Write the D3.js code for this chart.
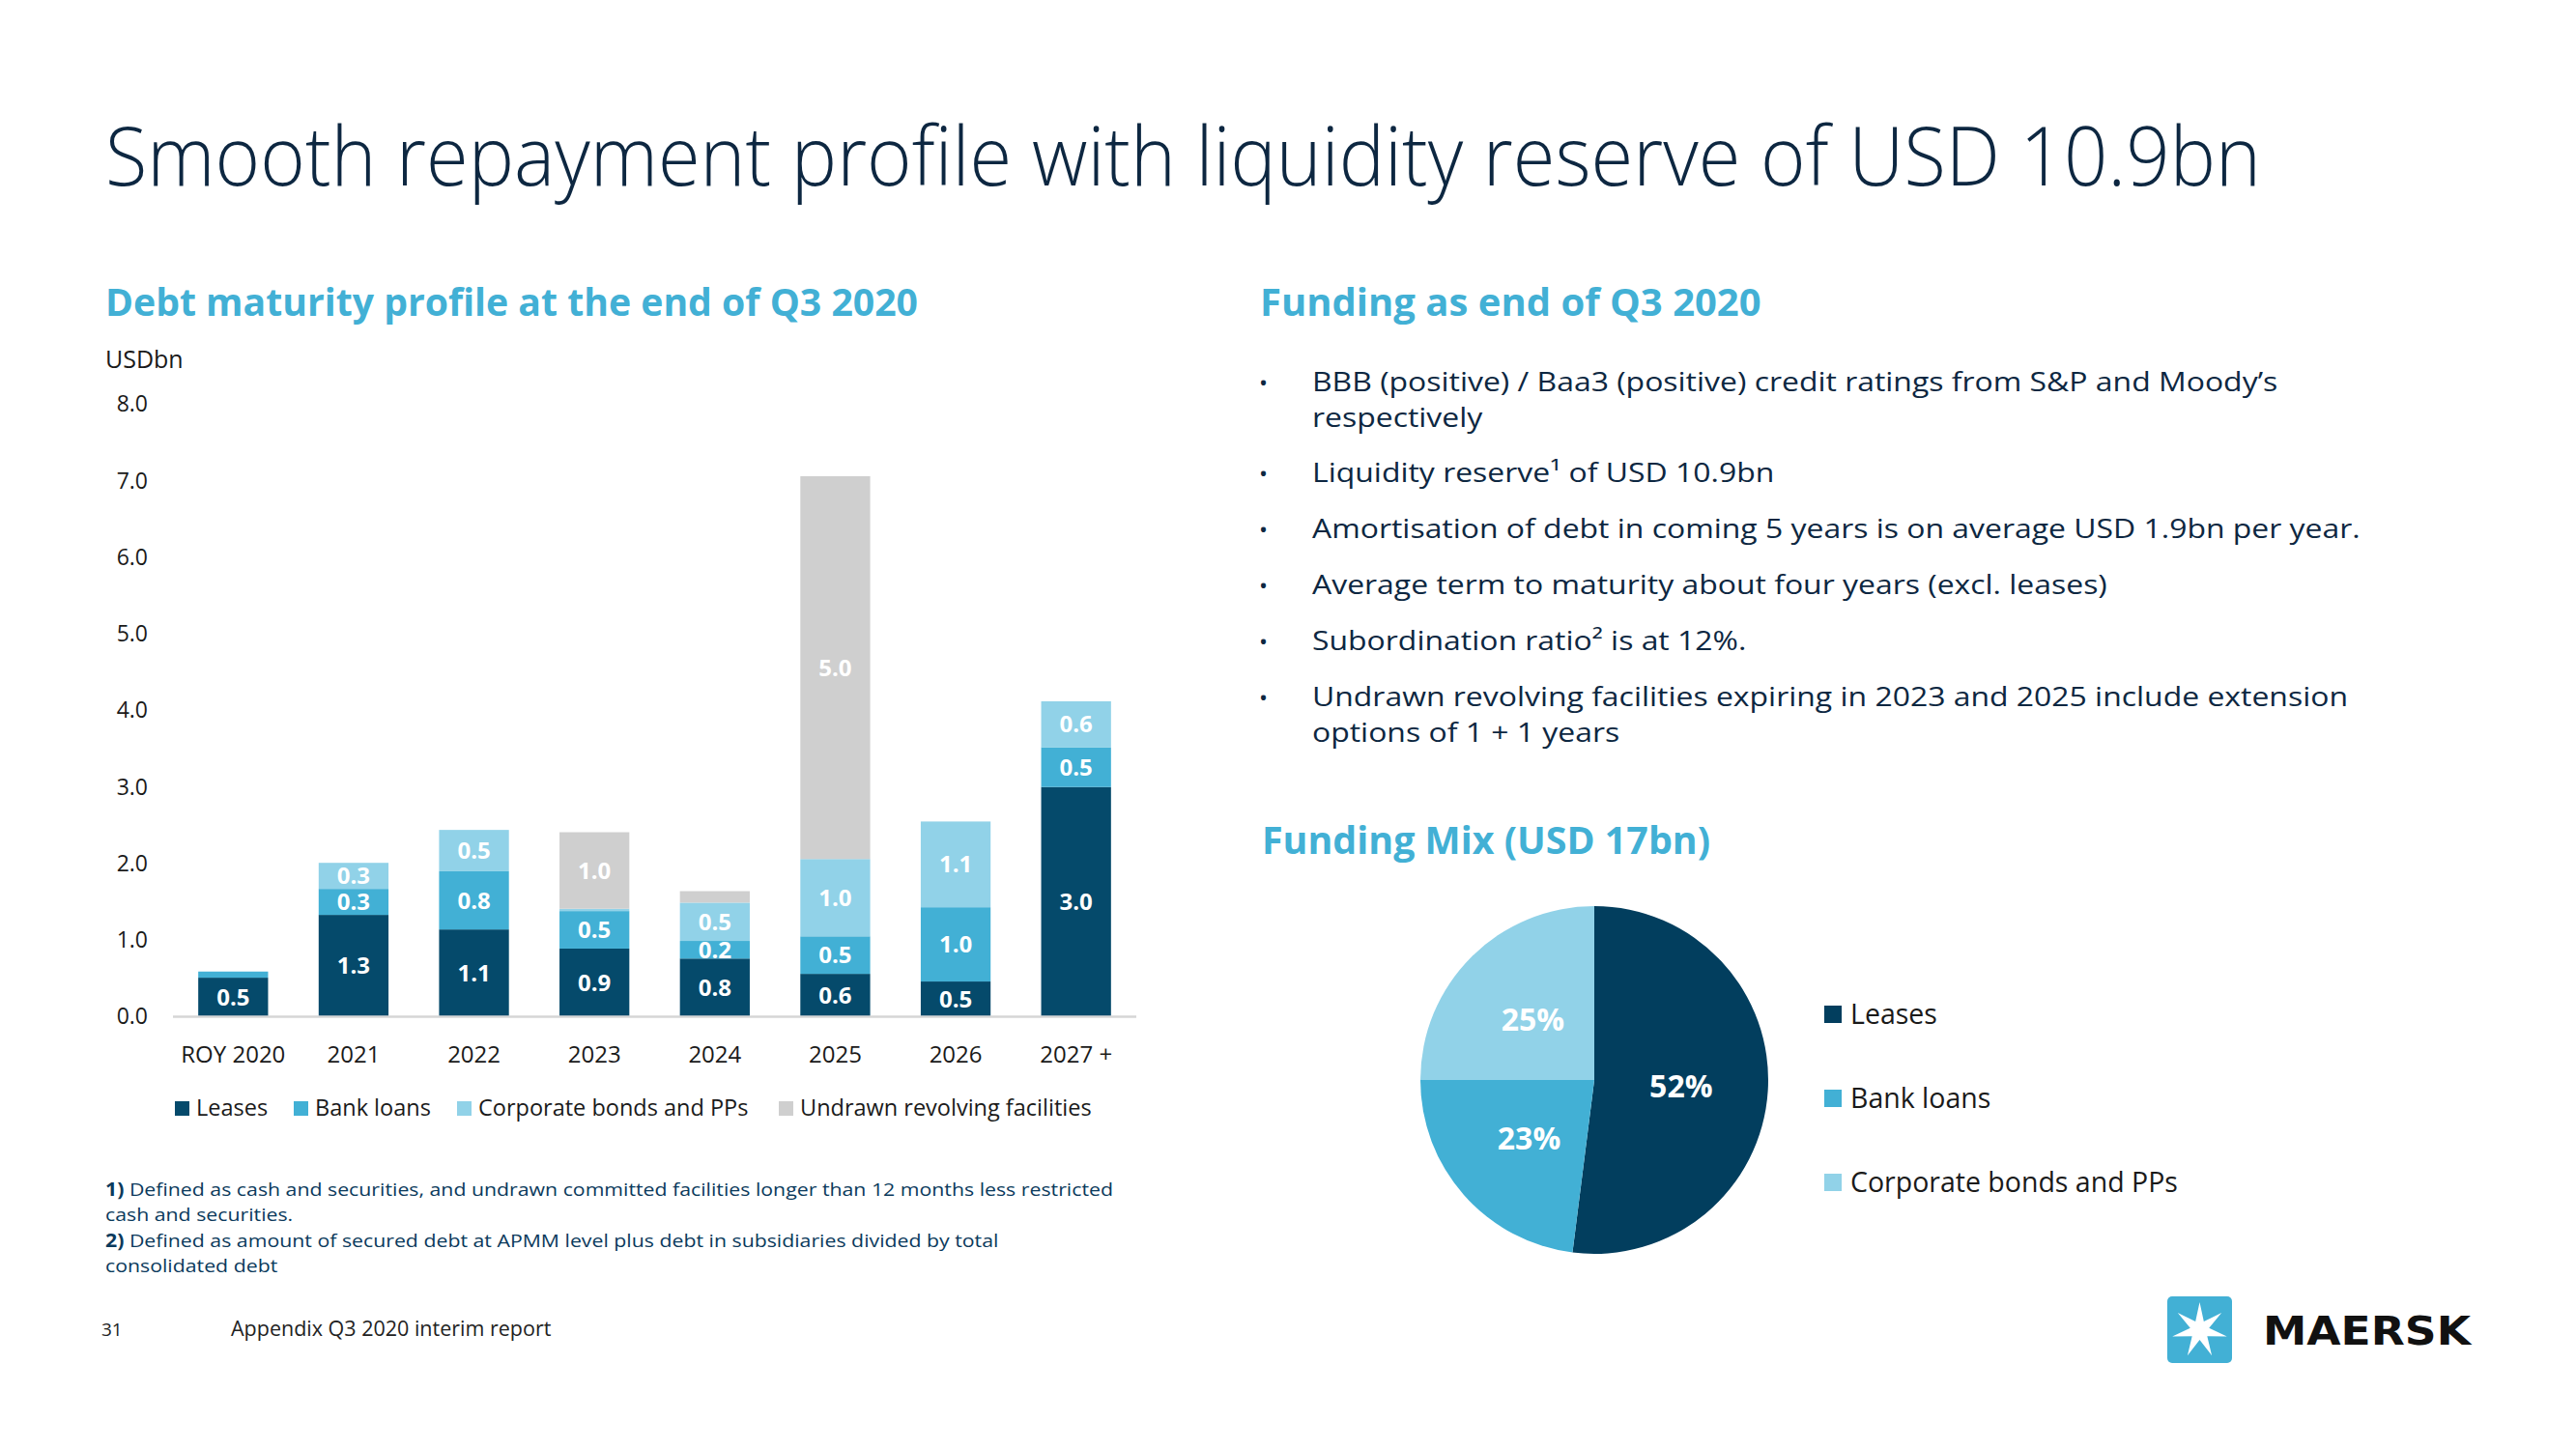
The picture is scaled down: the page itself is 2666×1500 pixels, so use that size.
<!DOCTYPE html>
<html>
<head>
<meta charset="utf-8">
<script src="https://cdn.jsdelivr.net/npm/d3@7"></script>
<style>
  html, body { margin: 0; padding: 0; background: #ffffff; }
  svg { display: block; }
</style>
</head>
<body>
<script>
// ---------------- DATA ----------------
const categories = ["ROY 2020", "2021", "2022", "2023", "2024", "2025", "2026", "2027 +"];
const leases         = [0.51, 1.33, 1.14, 0.89, 0.76, 0.56, 0.46, 3.00];
const bankLoans      = [0.08, 0.34, 0.76, 0.49, 0.23, 0.49, 0.97, 0.52];
const corporateBonds = [0.00, 0.34, 0.54, 0.03, 0.50, 1.01, 1.12, 0.60];
const undrawnRCF     = [0.00, 0.00, 0.00, 1.00, 0.15, 5.00, 0.00, 0.00];
const seriesNames = ["Leases", "Bank loans", "Corporate bonds and PPs", "Undrawn revolving facilities"];
const yTicks = [0, 1, 2, 3, 4, 5, 6, 7, 8];

const fundingNames  = ["Leases", "Bank loans", "Corporate bonds and PPs"];
const fundingShares = [52, 23, 25];

const bullets = [
  ["BBB (positive) / Baa3 (positive) credit ratings from S&P and Moody\u2019s", "respectively"],
  ["Liquidity reserve\u00b9 of USD 10.9bn"],
  ["Amortisation of debt in coming 5 years is on average USD 1.9bn per year."],
  ["Average term to maturity about four years (excl. leases)"],
  ["Subordination ratio\u00b2 is at 12%."],
  ["Undrawn revolving facilities expiring in 2023 and 2025 include extension", "options of 1 + 1 years"]
];

// ---------------- STYLE ----------------
const W = 2666, H = 1500;
const FONT = "'Open Sans', 'Noto Sans', sans-serif";
const barColors = ["#054a6b", "#42b0d5", "#91d2e8", "#cfcfcf"];
const pieColors = ["#023e5e", "#42b0d5", "#91d2e8"];
const navy = "#0d2741";
const blue = "#42b0d5";

const svg = d3.select("body").append("svg")
  .attr("width", W).attr("height", H)
  .style("font-family", FONT);
svg.append("rect").attr("width", W).attr("height", H).attr("fill", "#fff");

function fit(sel, w) {
  sel.each(function () {
    const len = this.getComputedTextLength();
    if (Math.abs(len - w) > 2) {
      d3.select(this).attr("textLength", w).attr("lengthAdjust", "spacingAndGlyphs");
    }
  });
}
function stretch(sel, k) {
  sel.each(function () {
    const len = this.getComputedTextLength();
    d3.select(this).attr("textLength", len * k).attr("lengthAdjust", "spacingAndGlyphs");
  });
}

// ---------------- TITLE ----------------
svg.append("text").attr("x", 109).attr("y", 192)
  .attr("font-size", 84).attr("font-weight", 300).attr("fill", navy)
  .text("Smooth repayment profile with liquidity reserve of USD 10.9bn")
  .call(fit, 2231);

// headings
svg.append("text").attr("x", 109).attr("y", 327)
  .attr("font-size", 40).attr("font-weight", 700).attr("fill", blue)
  .text("Debt maturity profile at the end of Q3 2020").call(fit, 841);
svg.append("text").attr("x", 1304).attr("y", 327)
  .attr("font-size", 40).attr("font-weight", 700).attr("fill", blue)
  .text("Funding as end of Q3 2020").call(fit, 517);
svg.append("text").attr("x", 1306).attr("y", 884)
  .attr("font-size", 40).attr("font-weight", 700).attr("fill", blue)
  .text("Funding Mix (USD 17bn)").call(fit, 464);

// ---------------- BAR CHART ----------------
const rows = categories.map((c, i) => ({
  cat: c,
  "Leases": leases[i],
  "Bank loans": bankLoans[i],
  "Corporate bonds and PPs": corporateBonds[i],
  "Undrawn revolving facilities": undrawnRCF[i]
}));
const stacked = d3.stack().keys(seriesNames)(rows);

const x = d3.scaleBand().domain(categories).range([179, 1176])
  .paddingInner(0.42).paddingOuter(0.21);
const y = d3.scaleLinear().domain([0, 8]).range([1052.5, 418.5]);

svg.append("text").attr("x", 109).attr("y", 381)
  .attr("font-size", 25).attr("fill", "#1a1a1a").text("USDbn");

const yAxis = svg.append("g").attr("transform", "translate(161,0)")
  .call(d3.axisLeft(y).tickValues(yTicks).tickFormat(d3.format(".1f")).tickSize(0).tickPadding(8));
yAxis.select(".domain").remove();
yAxis.selectAll("text").attr("font-size", 23).attr("fill", "#1a1a1a").attr("font-family", FONT);

const layers = svg.append("g").selectAll("g").data(stacked).join("g")
  .attr("fill", (d, i) => barColors[i]);
layers.selectAll("rect").data(d => d).join("rect")
  .attr("x", d => x(d.data.cat))
  .attr("width", x.bandwidth())
  .attr("y", d => y(d[1]))
  .attr("height", d => Math.max(0, y(d[0]) - y(d[1])));

const labelG = svg.append("g");
stacked.forEach(layer => {
  layer.forEach(d => {
    const v = d[1] - d[0];
    if (v >= 0.2) {
      labelG.append("text")
        .attr("x", x(d.data.cat) + x.bandwidth() / 2)
        .attr("y", (y(d[0]) + y(d[1])) / 2)
        .attr("dy", "0.36em")
        .attr("text-anchor", "middle")
        .attr("font-size", 24).attr("font-weight", 700).attr("fill", "#fff")
        .text(v.toFixed(1));
    }
  });
});

const xAxis = svg.append("g").attr("transform", "translate(0,1052.5)")
  .call(d3.axisBottom(x).tickSize(0).tickPadding(30));
xAxis.select(".domain").remove();
xAxis.selectAll("text").attr("font-size", 24).attr("fill", "#1a1a1a").attr("font-family", FONT);

svg.append("line").attr("x1", x.range()[0]).attr("x2", x.range()[1])
  .attr("y1", y(0)).attr("y2", y(0))
  .attr("stroke", "#d6d6d6").attr("stroke-width", 2.5);

// bar legend
const legX = [181, 304, 473, 806];
const barLeg = svg.append("g").selectAll("g").data(seriesNames).join("g")
  .attr("transform", (d, i) => `translate(${legX[i]},1140)`);
barLeg.append("rect").attr("width", 15).attr("height", 15).attr("fill", (d, i) => barColors[i]);
barLeg.append("text").attr("x", 22).attr("y", 15)
  .attr("font-size", 23.5).attr("fill", "#1a1a1a").text(d => d);

// ---------------- BULLETS ----------------
const bulletTop = [405, 499, 557, 615, 673, 731];
bullets.forEach((lines, i) => {
  svg.append("text").attr("x", 1303).attr("y", bulletTop[i])
    .attr("font-size", 24).attr("fill", navy).text("\u2022");
  lines.forEach((ln, j) => {
    svg.append("text").attr("x", 1358).attr("y", bulletTop[i] + j * 36.5)
      .attr("font-size", 28).attr("fill", navy).text(ln)
      .call(stretch, 1.14);
  });
});

// ---------------- PIE ----------------
const pieData = fundingNames.map((n, i) => ({ name: n, value: fundingShares[i] }));
const pie = d3.pie().sort(null).value(d => d.value)(pieData);
const arc = d3.arc().innerRadius(0).outerRadius(180);
const labelArc = d3.arc().innerRadius(90).outerRadius(90);
const pg = svg.append("g").attr("transform", "translate(1650,1118)");
pg.selectAll("path").data(pie).join("path")
  .attr("d", arc).attr("fill", (d, i) => pieColors[i]);
pg.selectAll("text").data(pie).join("text")
  .attr("transform", d => `translate(${labelArc.centroid(d)})`)
  .attr("dy", "0.4em").attr("text-anchor", "middle")
  .attr("font-size", 32).attr("font-weight", 700).attr("fill", "#fff")
  .text(d => d.data.value + "%");

const pieLegY = [1041, 1128, 1215];
const pieLeg = svg.append("g").selectAll("g").data(fundingNames).join("g")
  .attr("transform", (d, i) => `translate(1888,${pieLegY[i]})`);
pieLeg.append("rect").attr("width", 18).attr("height", 18).attr("fill", (d, i) => pieColors[i]);
pieLeg.append("text").attr("x", 27).attr("y", 19)
  .attr("font-size", 28.5).attr("fill", "#1a1a1a").text(d => d);

// ---------------- FOOTNOTES ----------------
const footColor = "#0b3a5c";
const fn1 = svg.append("text").attr("x", 109).attr("y", 1238).attr("font-size", 19).attr("fill", footColor);
fn1.append("tspan").attr("font-weight", 700).text("1)");
fn1.append("tspan").text(" Defined as cash and securities, and undrawn committed facilities longer than 12 months less restricted");
const fn1b = svg.append("text").attr("x", 109).attr("y", 1264).attr("font-size", 19).attr("fill", footColor)
  .text("cash and securities.");
const fn2 = svg.append("text").attr("x", 109).attr("y", 1291).attr("font-size", 19).attr("fill", footColor);
fn2.append("tspan").attr("font-weight", 700).text("2)");
fn2.append("tspan").text(" Defined as amount of secured debt at APMM level plus debt in subsidiaries divided by total");
const fn2b = svg.append("text").attr("x", 109).attr("y", 1317).attr("font-size", 19).attr("fill", footColor)
  .text("consolidated debt");
[fn1, fn1b, fn2, fn2b].forEach(t => t.call(stretch, 1.12));

svg.append("text").attr("x", 105).attr("y", 1383).attr("font-size", 19).attr("fill", "#222").text("31");
svg.append("text").attr("x", 239).attr("y", 1383).attr("font-size", 21.5).attr("fill", "#222")
  .text("Appendix Q3 2020 interim report");

// ---------------- LOGO ----------------
svg.append("rect").attr("x", 2243).attr("y", 1342).attr("width", 67).attr("height", 69)
  .attr("rx", 5).attr("fill", blue);
const starPts = d3.range(14).map(k => {
  const r = k % 2 === 0 ? 29 : 10;
  const a = k * Math.PI / 7;
  return [2276.5 + r * Math.sin(a), 1377 - r * Math.cos(a)];
});
svg.append("polygon").attr("points", starPts.map(p => p.join(",")).join(" ")).attr("fill", "#fff");
svg.append("text").attr("x", 2342).attr("y", 1392)
  .attr("font-family", "'DejaVu Sans', sans-serif")
  .attr("font-size", 41).attr("font-weight", 700).attr("fill", "#111")
  .text("MAERSK").call(fit, 215);
</script>
</body>
</html>
